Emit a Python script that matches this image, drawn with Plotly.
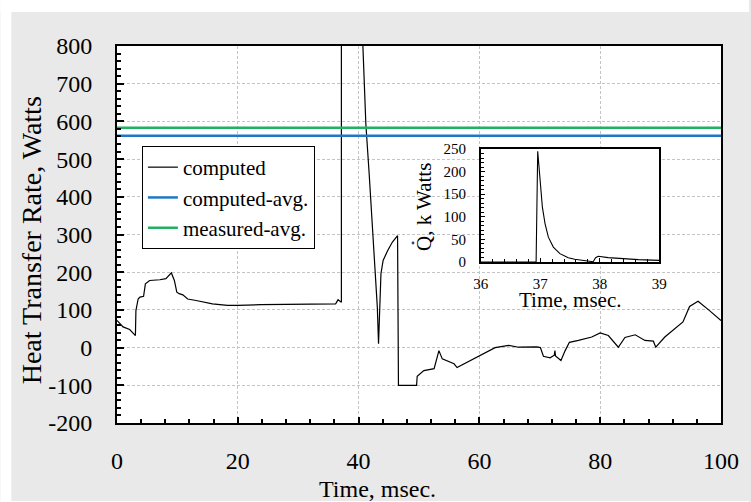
import plotly.graph_objects as go

# ---------------- data ----------------
time_ms = [0, 1.0, 2.1, 3.05, 3.13, 3.5, 3.8, 4.4, 4.7, 5.4, 7.1, 8.1, 9.0, 9.5, 9.9,
           10.3, 10.9, 11.7, 13.1, 15.8, 18.3, 20.0, 23.8, 30.0, 36.2, 36.6, 37.0,
           37.15, 37.2, 38.0, 39.0, 40.0, 40.65, 40.9, 41.2, 41.75, 42.3, 42.85, 43.1,
           43.3, 43.5, 43.7, 44.06, 44.8, 45.6, 46.45, 46.6, 49.6, 49.7, 50.1, 50.8,
           52.5, 52.9, 53.3, 53.85, 55.2, 55.8, 56.3, 57.7, 60.2, 62.6, 64.85, 66.5,
           69.5, 70.1, 70.6, 71.7, 72.4, 72.5, 72.6, 73.5, 74.2, 74.9, 76.4, 78.6,
           80.0, 81.35, 83.0, 84.1, 85.8, 87.4, 88.8, 89.2, 90.7, 92.9, 93.7, 94.8,
           96.2, 98.1, 100.0]
heat_w = [72, 55, 48, 32, 98, 129, 134, 136, 169, 178, 180, 183, 198, 178, 147,
          143, 140, 129, 125, 116, 112, 112, 114, 115, 116, 127, 120,
          120, 240000, 5000, 2000, 1100, 800, 726, 593, 461, 328, 196, 107,
          10, 107, 196, 231, 257, 280, 297, -100, -100, -76, -70, -61,
          -56, -30, -8, -30, -40, -43, -53, -41, -21, 0, 6, 1,
          2, 0, -23, -27, -20, -8, -22, -34, -8, 14, 19, 28,
          39, 32, 1, 27, 34, 19, 17, 1, 28, 58, 68, 109,
          123, 98, 72]
computed_avg = 562
measured_avg = 583

inset_time = [36.0, 36.93, 36.957, 36.985, 37.013, 37.035, 37.08, 37.136, 37.22, 37.33,
              37.47, 37.58, 37.70, 37.89, 37.93, 37.975, 38.14, 38.37, 38.65, 39.0]
inset_q_kw = [0, 0, 245, 196, 159, 122, 85, 55, 33, 18.5,
              9.6, 5.9, 3.7, 0.7, 9.6, 12.6, 9.6, 7.4, 5.2, 3.7]

x_ticks = [0, 20, 40, 60, 80, 100]
y_ticks = [-200, -100, 0, 100, 200, 300, 400, 500, 600, 700, 800]
y_tick_text = ["-200", "-100", "0", "100", "200", "300", "400", "500", "600", "700", "800"]
inset_x_ticks = [36, 37, 38, 39]
inset_y_ticks = [0, 50, 100, 150, 200, 250]

# ---------------- layout geometry ----------------
W, H = 751, 502
L, R, T, B = 117, 28, 46, 79
PW, PH = W - L - R, H - T - B


def px(xp):
    return (xp - L) / PW


def py(yp):
    return (H - B - yp) / PH


SERIF = "Liberation Serif, Times New Roman, serif"
BLUE = "#1f78c4"
GREEN = "#22b064"

fig = go.Figure()

fig.add_trace(go.Scatter(x=time_ms, y=heat_w, mode="lines", name="computed",
                         line=dict(color="black", width=1.2), xaxis="x", yaxis="y"))
fig.add_trace(go.Scatter(x=[x_ticks[0], x_ticks[-1]], y=[computed_avg, computed_avg],
                         mode="lines", name="computed-avg.",
                         line=dict(color=BLUE, width=2.5), xaxis="x", yaxis="y"))
fig.add_trace(go.Scatter(x=[x_ticks[0], x_ticks[-1]], y=[measured_avg, measured_avg],
                         mode="lines", name="measured-avg.",
                         line=dict(color=GREEN, width=2.5), xaxis="x", yaxis="y"))
fig.add_trace(go.Scatter(x=inset_time, y=inset_q_kw, mode="lines", showlegend=False,
                         line=dict(color="black", width=1.1), xaxis="x2", yaxis="y2"))

axis_common = dict(showline=True, linecolor="black", mirror=True, ticks="inside",
                   tickcolor="black", zeroline=False,
                   tickfont=dict(family=SERIF, size=24, color="black"))

fig.update_layout(
    width=W, height=H,
    margin=dict(l=L, r=R, t=T, b=B, pad=0),
    paper_bgcolor="#e9e9e9",
    plot_bgcolor="white",
    showlegend=True,
    legend=dict(x=px(142), y=py(146), xanchor="left", yanchor="top",
                bgcolor="white", bordercolor="black", borderwidth=1,
                font=dict(family=SERIF, size=21, color="black"),
                tracegroupgap=0),
    xaxis=dict(range=[0, 100], tickvals=x_ticks, linewidth=2, ticklen=6, tickwidth=1.5,
               showgrid=True, gridcolor="#c4c4c4", griddash="3px,2px", gridwidth=1,
               ticklabelstandoff=15,
               minor=dict(dtick=4, ticks="inside", ticklen=4, tickcolor="black", showgrid=False),
               domain=[0, 1], anchor="y", **axis_common),
    yaxis=dict(range=[-200, 800], tickvals=y_ticks, ticktext=y_tick_text, linewidth=2,
               ticklen=7, tickwidth=1.5,
               showgrid=True, gridcolor="#c4c4c4", griddash="3px,2px", gridwidth=1,
               ticklabelstandoff=18,
               minor=dict(dtick=20, ticks="inside", ticklen=4, tickcolor="black", showgrid=False),
               domain=[0, 1], anchor="x", **axis_common),
    xaxis2=dict(range=[36, 39], tickvals=inset_x_ticks, linewidth=1.5, ticklen=4,
                showgrid=False, ticklabelstandoff=7,
                minor=dict(dtick=0.2, ticks="inside", ticklen=3, tickcolor="black", showgrid=False),
                domain=[px(482), px(661)], anchor="y2",
                showline=True, linecolor="black", mirror=True, ticks="inside",
                tickcolor="black", zeroline=False,
                tickfont=dict(family=SERIF, size=15, color="black")),
    yaxis2=dict(range=[0, 250], tickvals=inset_y_ticks, linewidth=1.5, ticklen=4,
                showgrid=False, ticklabelstandoff=10,
                minor=dict(dtick=10, ticks="inside", ticklen=3, tickcolor="black", showgrid=False),
                domain=[py(262), py(149)], anchor="x2",
                showline=True, linecolor="black", mirror=True, ticks="inside",
                tickcolor="black", zeroline=False,
                tickfont=dict(family=SERIF, size=15, color="black")),
)

# white backdrop of the inset (hides main grid lines there)
fig.add_shape(type="rect", xref="paper", yref="paper", layer="between",
              x0=px(410), x1=px(678), y0=py(316), y1=py(137),
              fillcolor="white", line=dict(width=0))
# white border bands outside the grey frame
fig.add_shape(type="rect", xref="paper", yref="paper", layer="below",
              x0=px(0), x1=px(W), y0=py(12), y1=py(0), fillcolor="white", line=dict(width=0))
fig.add_shape(type="rect", xref="paper", yref="paper", layer="below",
              x0=px(0), x1=px(11), y0=py(H), y1=py(0), fillcolor="white", line=dict(width=0))
fig.add_shape(type="rect", xref="paper", yref="paper", layer="below",
              x0=px(0), x1=px(W), y0=py(H), y1=py(501), fillcolor="white", line=dict(width=0))
# small blue dot (overdot of Q)
fig.add_shape(type="circle", xref="paper", yref="paper", layer="above",
              x0=px(412.6), x1=px(415.4), y0=py(244.4), y1=py(241.6),
              fillcolor="#2040a0", line=dict(width=0))

annos = [
    dict(text="Heat Transfer Rate, Watts", x=px(31), y=py(240), textangle=-90,
         font=dict(family=SERIF, size=28, color="black")),
    dict(text="Time, msec.", x=px(378), y=py(489),
         font=dict(family=SERIF, size=24, color="black")),
    dict(text="Q, k Watts", x=px(425), y=py(207), textangle=-90,
         font=dict(family=SERIF, size=21, color="black")),
    dict(text="Time, msec.", x=px(571), y=py(300),
         font=dict(family=SERIF, size=21, color="black")),
]
for a in annos:
    fig.add_annotation(xref="paper", yref="paper", showarrow=False,
                       xanchor="center", yanchor="middle", **a)

fig.write_html("out.html")
